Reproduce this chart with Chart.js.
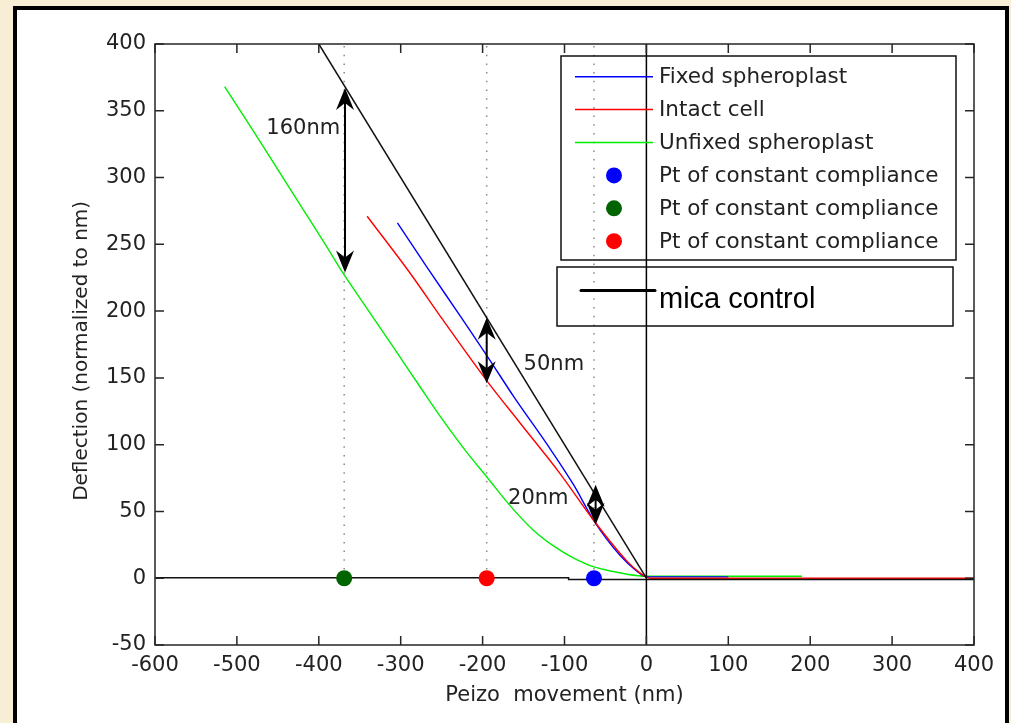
<!DOCTYPE html>
<html>
<head>
<meta charset="utf-8">
<title>Deflection vs Peizo movement</title>
<script src="https://cdn.jsdelivr.net/npm/chart.js@4.4.0/dist/chart.umd.min.js"></script>
<style>
  html, body { margin: 0; padding: 0; width: 1011px; height: 723px; overflow: hidden; background: #f8edd5; }
  #frame { position: absolute; left: 13px; top: 6px; width: 988px; height: 740px; background: #fff; border: 4px solid #000; }
  #wrap { position: absolute; left: 0; top: 0; width: 1011px; height: 723px; }
</style>
</head>
<body>
<div id="frame"></div>
<div id="wrap"><canvas id="chart"></canvas></div>
<script>
// values (nm)
const fixedX = [-304, -268, -227, -194, -162, -121, -89, -64, -32, -12, 0, 40, 100];
const fixedY = [266, 233, 196, 166, 136, 100, 70, 43, 17, 5.5, 1, 1, 1];
const intactX = [-341, -288, -248, -195, -154, -105, -64, -24, -8, 0, 5, 400];
const intactY = [271, 228, 193, 148, 116, 78, 43, 13, 4, 1, 0, 0];
const unfixedX = [-515, -480, -450, -420, -390, -370, -349, -309, -276, -248, -219, -195, -166, -138, -113, -90, -64, -40, -24, 0, 190];
const unfixedY = [368, 335, 306, 277, 248, 228, 209, 173, 143, 118, 94, 76, 54, 36, 24, 15.5, 8.5, 5, 3, 1.5, 1.5];
const micaX = [-400, 0];
const micaY = [400, 0];
const zeroX = [-600, -95, -95, 400];
const zeroY = [0.3, 0.3, -1, -1];
const axisZeroX = [0, 0];
const axisZeroY = [-50, 400];

// points of constant compliance: blue, green, red
const ptX = [-64, -369, -195];
const ptColors = ["#0000ff", "#006400", "#ff0000"];
const guideX = [-369, -195, -64];

// double arrows and their labels
const arrowX = [-368, -195, -62];
const arrowTop = [367, 195, 70];
const arrowBottom = [229, 146, 40];
const labelText = ["160nm", "50nm", "20nm"];
const labelX = [-419, -113, -132];
const labelY = [337, 160, 60];

const legendNames = ["Fixed spheroplast", "Intact cell", "Unfixed spheroplast",
  "Pt of constant compliance", "Pt of constant compliance", "Pt of constant compliance"];

const xTickMin = -600, xTickMax = 400, xStep = 100;
const yTickMin = -50, yTickMax = 400, yStep = 50;

const FONT = "'DejaVu Sans', sans-serif";

function zip(xs, ys) {
  return xs.map((x, i) => ({ x: x, y: ys[i] }));
}

function lineSet(label, xs, ys, color, width, smooth) {
  return {
    label: label,
    data: zip(xs, ys),
    showLine: true,
    borderColor: color,
    borderWidth: width,
    pointRadius: 0,
    fill: false,
    cubicInterpolationMode: smooth ? "monotone" : "default",
    tension: smooth ? 0.4 : 0,
  };
}

const datasets = [];
// dots on top
ptX.forEach((x, i) => {
  datasets.push({
    label: "Pt of constant compliance",
    data: [{ x: x, y: 0 }],
    pointRadius: 8,
    pointBackgroundColor: ptColors[i],
    pointBorderWidth: 0,
    showLine: false,
  });
});
datasets.push(lineSet("x0", axisZeroX, axisZeroY, "#000", 1.5));
datasets.push(lineSet("zero", zeroX, zeroY, "#111", 1.5));
datasets.push(lineSet("mica control", micaX, micaY, "#111", 1.5));
datasets.push(lineSet("Intact cell", intactX, intactY, "#ff0000", 1.4, true));
datasets.push(lineSet("Fixed spheroplast", fixedX, fixedY, "#0000ff", 1.4, true));
datasets.push(lineSet("Unfixed spheroplast", unfixedX, unfixedY, "#00ee00", 1.4, true));
guideX.forEach((x) => {
  const d = lineSet("guide", [x, x], [0, 400], "#8a8a8a", 1.5);
  d.borderDash = [1.5, 7.2];
  datasets.push(d);
});

// box and inward ticks on all four sides
const boxTicks = {
  id: "boxTicks",
  afterDatasetsDraw(chart) {
    const { ctx, chartArea: a, scales } = chart;
    const x = scales.x, y = scales.y;
    ctx.save();
    ctx.strokeStyle = "#262626";
    ctx.lineWidth = 1.5;
    ctx.strokeRect(a.left, a.top, a.right - a.left, a.bottom - a.top);
    ctx.beginPath();
    x.ticks.forEach((t) => {
      const px = x.getPixelForValue(t.value);
      ctx.moveTo(px, a.bottom); ctx.lineTo(px, a.bottom - 9);
      ctx.moveTo(px, a.top); ctx.lineTo(px, a.top + 9);
    });
    y.ticks.forEach((t) => {
      const py = y.getPixelForValue(t.value);
      ctx.moveTo(a.left, py); ctx.lineTo(a.left + 9, py);
      ctx.moveTo(a.right, py); ctx.lineTo(a.right - 9, py);
    });
    ctx.stroke();
    ctx.restore();
  },
};

function arrowHead(ctx, x, tipY, dir) {
  // dir = 1 points up, -1 points down
  const len = 22, half = 9, notch = 15;
  ctx.beginPath();
  ctx.moveTo(x, tipY);
  ctx.lineTo(x - half, tipY + dir * len);
  ctx.lineTo(x, tipY + dir * notch);
  ctx.lineTo(x + half, tipY + dir * len);
  ctx.closePath();
  ctx.fill();
}

const arrows = {
  id: "arrows",
  afterDatasetsDraw(chart) {
    const { ctx, scales } = chart;
    const x = scales.x, y = scales.y;
    ctx.save();
    ctx.strokeStyle = "#000";
    ctx.fillStyle = "#000";
    ctx.lineWidth = 2;
    arrowX.forEach((v, i) => {
      const px = x.getPixelForValue(v);
      const t = y.getPixelForValue(arrowTop[i]);
      const b = y.getPixelForValue(arrowBottom[i]);
      ctx.beginPath();
      ctx.moveTo(px, t + 6);
      ctx.lineTo(px, b - 6);
      ctx.stroke();
      arrowHead(ctx, px, t, 1);
      arrowHead(ctx, px, b, -1);
    });
    ctx.font = "21px " + FONT;
    ctx.fillStyle = "#222";
    ctx.textAlign = "center";
    ctx.textBaseline = "middle";
    labelText.forEach((s, i) => {
      ctx.fillText(s, x.getPixelForValue(labelX[i]), y.getPixelForValue(labelY[i]));
    });
    ctx.restore();
  },
};

// the two legend boxes, drawn inside the plot area
const legendBoxes = {
  id: "legendBoxes",
  afterDatasetsDraw(chart) {
    const { ctx } = chart;
    ctx.save();
    ctx.strokeStyle = "#111";
    ctx.lineWidth = 1.5;
    ctx.strokeRect(561, 56, 395, 204);
    ctx.strokeRect(557, 267, 396, 59);

    const sampleColors = ["#0000ff", "#ff0000", "#00ee00"];
    ctx.font = "21.5px " + FONT;
    ctx.textAlign = "left";
    ctx.textBaseline = "middle";
    legendNames.forEach((name, i) => {
      const yy = 76.7 + i * 32.9;
      if (i < 3) {
        ctx.strokeStyle = sampleColors[i];
        ctx.lineWidth = 1.5;
        ctx.beginPath();
        ctx.moveTo(575, yy);
        ctx.lineTo(653, yy);
        ctx.stroke();
      } else {
        ctx.fillStyle = ptColors[i - 3];
        ctx.beginPath();
        ctx.arc(614, yy, 8, 0, Math.PI * 2);
        ctx.fill();
      }
      ctx.fillStyle = "#222";
      ctx.fillText(name, 659, yy + 1);
    });

    ctx.strokeStyle = "#000";
    ctx.lineWidth = 3;
    ctx.lineCap = "round";
    ctx.beginPath();
    ctx.moveTo(581, 290.5);
    ctx.lineTo(655, 290.5);
    ctx.stroke();
    ctx.fillStyle = "#000";
    ctx.font = "29px 'Liberation Sans', Arial, sans-serif";
    ctx.textBaseline = "alphabetic";
    ctx.fillText("mica control", 659, 308);
    ctx.restore();
  },
};

new Chart(document.getElementById("chart"), {
  type: "scatter",
  data: { datasets: datasets },
  options: {
    responsive: true,
    maintainAspectRatio: false,
    animation: false,
    events: [],
    layout: { padding: { top: 44, right: 37, left: 0, bottom: 0 } },
    plugins: {
      legend: { display: false },
      tooltip: { enabled: false },
    },
    scales: {
      x: {
        type: "linear",
        min: xTickMin,
        max: xTickMax,
        afterFit(scale) { scale.height = 78; },
        ticks: {
          stepSize: xStep,
          color: "#222",
          font: { family: FONT, size: 21 },
          padding: 8,
          maxRotation: 0,
          autoSkip: false,
        },
        grid: { display: false, drawTicks: false },
        border: { display: false },
        title: {
          display: true,
          text: "Peizo  movement (nm)",
          color: "#222",
          font: { family: FONT, size: 21 },
          padding: { top: 0, bottom: 15 },
        },
      },
      y: {
        type: "linear",
        min: yTickMin,
        max: yTickMax,
        afterFit(scale) { scale.width = 155; },
        ticks: {
          stepSize: yStep,
          color: "#222",
          font: { family: FONT, size: 21 },
          padding: 9,
          autoSkip: false,
        },
        grid: { display: false, drawTicks: false },
        border: { display: false },
        title: {
          display: true,
          text: "Deflection (normalized to nm)  ",
          color: "#222",
          font: { family: FONT, size: 20 },
          padding: { top: 70, bottom: 0 },
        },
      },
    },
  },
  plugins: [boxTicks, legendBoxes, arrows],
});
</script>
</body>
</html>
